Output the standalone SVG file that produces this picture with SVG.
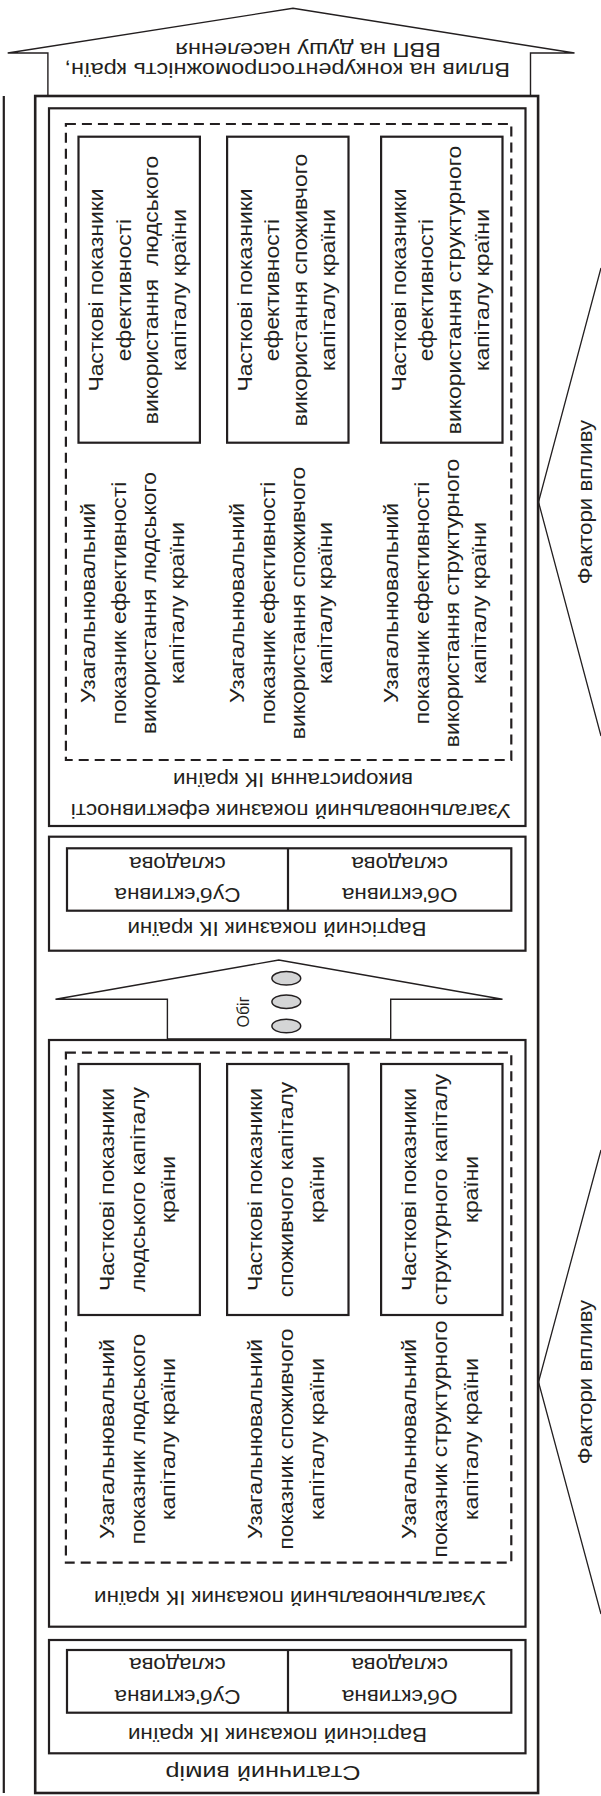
<svg xmlns="http://www.w3.org/2000/svg" width="601" height="1796" viewBox="0 0 601 1796">
<style>
.t{font-family:"Liberation Sans",Arial,sans-serif;fill:#231f20;text-anchor:middle}
.h{font-size:19.5px}
.v{font-size:21px}
.frame{fill:none;stroke:#231f20;stroke-width:2.6}
.box{fill:none;stroke:#231f20;stroke-width:2.2}
.dash{fill:none;stroke:#231f20;stroke-width:2.2;stroke-dasharray:10 6}
.arrow{fill:#fff;stroke:#231f20;stroke-width:1.4;stroke-linejoin:miter}
.line{fill:none;stroke:#231f20;stroke-width:1.3}
.dot{fill:#d4d5d6;stroke:#231f20;stroke-width:1.5}
</style>
<rect width="601" height="1796" fill="#fff"/>

<g id="connectors">
  <line class="line" x1="3.8" y1="96" x2="3.8" y2="1793" style="stroke-width:2.2"/>
  <polygon id="arrow-top" class="arrow" points="47.9,96 47.9,53 7.7,53 293,8.3 574.5,53 530.5,53 530.5,96"/>
  <polygon id="arrow-obig" class="arrow" points="167.4,1039 167.4,999.3 55.5,999.3 278.8,960 502.5,999.3 390.7,999.3 390.7,1039"/>
  <polyline class="line" points="601,268 538.5,502 601,736"/>
  <polyline class="line" points="601,1150 538.5,1382 601,1614"/>
</g>

<g id="top-arrow-label">
  <text class="t" style="font-size:21px" transform="translate(287.3,69) rotate(180) scale(1.12,1)" y="5.5">Вплив на конкурентоспроможність країн,</text>
  <text class="t" style="font-size:21px" transform="translate(308,49) rotate(180) scale(1.12,1)" y="5.5">ВВП на душу населення</text>
</g>

<g id="obig">
  <ellipse class="dot" cx="286.3" cy="978.3" rx="14.4" ry="6.8"/>
  <ellipse class="dot" cx="286.3" cy="1001.7" rx="14.4" ry="6.8"/>
  <ellipse class="dot" cx="286.3" cy="1026" rx="14.4" ry="6.8"/>
  <text class="t" style="font-size:16px" transform="translate(244.7,1012) rotate(-90)" y="4.2">Обіг</text>
</g>

<g id="factors-1">
  <text class="t v" transform="translate(586,502) rotate(-90) scale(1.06,1)" y="5.5">Фактори впливу</text>
</g>
<g id="factors-2">
  <text class="t v" transform="translate(586,1382) rotate(-90) scale(1.06,1)" y="5.5">Фактори впливу</text>
</g>

<g id="static-frame">
  <rect class="frame" x="35.2" y="96" width="502.9" height="1697"/>
  <text class="t" style="font-size:21px" transform="translate(263,1772) rotate(180) scale(1.2,1)" y="5.5">Статичний вимір</text>
</g>

<!-- Upper section: efficiency -->
<g id="efficiency">
  <rect class="box" x="49" y="108.3" width="476.5" height="717.7"/>
  <rect class="dash" x="65.9" y="124" width="445.4" height="636"/>
  <text class="t h" transform="translate(290.7,809) rotate(180) scale(1.15,1)" y="5.1">Узагальнювальний показник ефективності</text>
  <text class="t h" transform="translate(293,778) rotate(180) scale(1.15,1)" y="5.1">використання ІК країни</text>
</g>

<g id="eff-partial-human">
  <rect class="box" x="78.5" y="136.7" width="121.4" height="306"/>
  <text class="t v" transform="translate(97.7,290) rotate(-90) scale(1.09,1)" y="5.5">Часткові показники</text>
  <text class="t v" transform="translate(125.2,290) rotate(-90) scale(1.09,1)" y="5.5">ефективності</text>
  <text class="t v" xml:space="preserve" transform="translate(152.8,290) rotate(-90) scale(1.09,1)" y="5.5">використання  людського</text>
  <text class="t v" transform="translate(180.4,290) rotate(-90) scale(1.09,1)" y="5.5">капіталу країни</text>
</g>
<g id="eff-partial-consumer">
  <rect class="box" x="227.1" y="136.7" width="121.4" height="306"/>
  <text class="t v" transform="translate(246.3,290) rotate(-90) scale(1.09,1)" y="5.5">Часткові показники</text>
  <text class="t v" transform="translate(273.8,290) rotate(-90) scale(1.09,1)" y="5.5">ефективності</text>
  <text class="t v" transform="translate(301.4,290) rotate(-90) scale(1.09,1)" y="5.5">використання споживчого</text>
  <text class="t v" transform="translate(329,290) rotate(-90) scale(1.09,1)" y="5.5">капіталу країни</text>
</g>
<g id="eff-partial-structural">
  <rect class="box" x="381.1" y="136.7" width="121.4" height="306"/>
  <text class="t v" transform="translate(400.3,290) rotate(-90) scale(1.09,1)" y="5.5">Часткові показники</text>
  <text class="t v" transform="translate(427.8,290) rotate(-90) scale(1.09,1)" y="5.5">ефективності</text>
  <text class="t v" transform="translate(455.4,290) rotate(-90) scale(1.09,1)" y="5.5">використання структурного</text>
  <text class="t v" transform="translate(483,290) rotate(-90) scale(1.09,1)" y="5.5">капіталу країни</text>
</g>

<g id="eff-general-human">
  <text class="t v" transform="translate(89.8,603) rotate(-90) scale(1.09,1)" y="5.5">Узагальнювальний</text>
  <text class="t v" transform="translate(120.8,603) rotate(-90) scale(1.09,1)" y="5.5">показник ефективності</text>
  <text class="t v" transform="translate(150.5,603) rotate(-90) scale(1.09,1)" y="5.5">використання людського</text>
  <text class="t v" transform="translate(178.3,603) rotate(-90) scale(1.09,1)" y="5.5">капіталу країни</text>
</g>
<g id="eff-general-consumer">
  <text class="t v" transform="translate(238.4,603) rotate(-90) scale(1.09,1)" y="5.5">Узагальнювальний</text>
  <text class="t v" transform="translate(269.4,603) rotate(-90) scale(1.09,1)" y="5.5">показник ефективності</text>
  <text class="t v" transform="translate(299.1,603) rotate(-90) scale(1.09,1)" y="5.5">використання споживчого</text>
  <text class="t v" transform="translate(326.9,603) rotate(-90) scale(1.09,1)" y="5.5">капіталу країни</text>
</g>
<g id="eff-general-structural">
  <text class="t v" transform="translate(392.4,603) rotate(-90) scale(1.09,1)" y="5.5">Узагальнювальний</text>
  <text class="t v" transform="translate(423.4,603) rotate(-90) scale(1.09,1)" y="5.5">показник ефективності</text>
  <text class="t v" transform="translate(453.1,603) rotate(-90) scale(1.09,1)" y="5.5">використання структурного</text>
  <text class="t v" transform="translate(480.9,603) rotate(-90) scale(1.09,1)" y="5.5">капіталу країни</text>
</g>

<!-- Value indicator (upper) -->
<g id="value-upper">
  <rect class="box" x="49" y="836.7" width="476.5" height="114"/>
  <rect class="box" x="67" y="848.3" width="444.3" height="62.4"/>
  <line class="box" x1="288" y1="848.3" x2="288" y2="910.7"/>
  <text class="t h" transform="translate(177.5,893.3) rotate(180) scale(1.15,1)" y="5.1">Суб'єктивна</text>
  <text class="t h" transform="translate(177.5,861.7) rotate(180) scale(1.15,1)" y="5.1">складова</text>
  <text class="t h" transform="translate(399.7,893.3) rotate(180) scale(1.15,1)" y="5.1">Об'єктивна</text>
  <text class="t h" transform="translate(399.7,861.7) rotate(180) scale(1.15,1)" y="5.1">складова</text>
  <text class="t h" transform="translate(277,926.7) rotate(180) scale(1.15,1)" y="5.1">Вартісний показник ІК країни</text>
</g>

<!-- Lower section: general IC indicator -->
<g id="general-ic">
  <rect class="box" x="49" y="1040" width="476.5" height="586.7"/>
  <rect class="dash" x="65.9" y="1052.7" width="445.4" height="510"/>
  <text class="t h" transform="translate(290,1596) rotate(180) scale(1.15,1)" y="5.1">Узагальнювальний показник ІК країни</text>
</g>

<g id="partial-human">
  <rect class="box" x="78.5" y="1064" width="121.4" height="251"/>
  <text class="t v" transform="translate(108,1189.5) rotate(-90) scale(1.09,1)" y="5.5">Часткові показники</text>
  <text class="t v" transform="translate(139,1189.5) rotate(-90) scale(1.09,1)" y="5.5">людського капіталу</text>
  <text class="t v" transform="translate(169.5,1189.5) rotate(-90) scale(1.09,1)" y="5.5">країни</text>
</g>
<g id="partial-consumer">
  <rect class="box" x="227.1" y="1064" width="121.4" height="251"/>
  <text class="t v" transform="translate(256.6,1189.5) rotate(-90) scale(1.09,1)" y="5.5">Часткові показники</text>
  <text class="t v" transform="translate(287.6,1189.5) rotate(-90) scale(1.09,1)" y="5.5">споживчого капіталу</text>
  <text class="t v" transform="translate(318.1,1189.5) rotate(-90) scale(1.09,1)" y="5.5">країни</text>
</g>
<g id="partial-structural">
  <rect class="box" x="381.1" y="1064" width="121.4" height="251"/>
  <text class="t v" transform="translate(410.6,1189.5) rotate(-90) scale(1.09,1)" y="5.5">Часткові показники</text>
  <text class="t v" transform="translate(441.6,1189.5) rotate(-90) scale(1.09,1)" y="5.5">структурного капіталу</text>
  <text class="t v" transform="translate(472.1,1189.5) rotate(-90) scale(1.09,1)" y="5.5">країни</text>
</g>

<g id="general-human">
  <text class="t v" transform="translate(108,1439) rotate(-90) scale(1.09,1)" y="5.5">Узагальнювальний</text>
  <text class="t v" transform="translate(139,1439) rotate(-90) scale(1.09,1)" y="5.5">показник людського</text>
  <text class="t v" transform="translate(169.5,1439) rotate(-90) scale(1.09,1)" y="5.5">капіталу країни</text>
</g>
<g id="general-consumer">
  <text class="t v" transform="translate(256.6,1439) rotate(-90) scale(1.09,1)" y="5.5">Узагальнювальний</text>
  <text class="t v" transform="translate(287.6,1439) rotate(-90) scale(1.09,1)" y="5.5">показник споживчого</text>
  <text class="t v" transform="translate(318.1,1439) rotate(-90) scale(1.09,1)" y="5.5">капіталу країни</text>
</g>
<g id="general-structural">
  <text class="t v" transform="translate(410.6,1439) rotate(-90) scale(1.09,1)" y="5.5">Узагальнювальний</text>
  <text class="t v" transform="translate(441.6,1439) rotate(-90) scale(1.09,1)" y="5.5">показник структурного</text>
  <text class="t v" transform="translate(472.1,1439) rotate(-90) scale(1.09,1)" y="5.5">капіталу країни</text>
</g>

<!-- Value indicator (lower) -->
<g id="value-lower">
  <rect class="box" x="49" y="1640" width="476.5" height="113.3"/>
  <rect class="box" x="67" y="1650" width="444.3" height="62.7"/>
  <line class="box" x1="288" y1="1650" x2="288" y2="1712.7"/>
  <text class="t h" transform="translate(177.5,1695) rotate(180) scale(1.15,1)" y="5.1">Суб'єктивна</text>
  <text class="t h" transform="translate(177.5,1663.5) rotate(180) scale(1.15,1)" y="5.1">складова</text>
  <text class="t h" transform="translate(399.7,1695) rotate(180) scale(1.15,1)" y="5.1">Об'єктивна</text>
  <text class="t h" transform="translate(399.7,1663.5) rotate(180) scale(1.15,1)" y="5.1">складова</text>
  <text class="t h" transform="translate(277.5,1733) rotate(180) scale(1.15,1)" y="5.1">Вартісний показник ІК країни</text>
</g>
</svg>
